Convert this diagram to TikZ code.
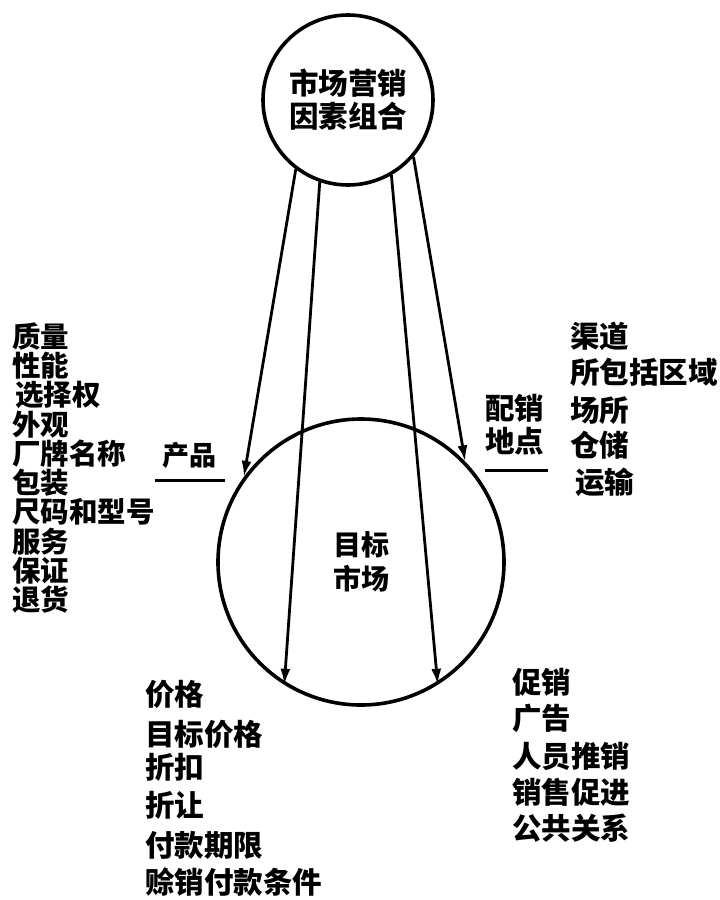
\documentclass[tikz,border=0pt]{standalone}
\usepackage{fontspec}
\newfontfamily\cjk{Noto Sans CJK SC}
\usetikzlibrary{arrows.meta}
\tikzset{
  ring/.style={circle, draw, line width=3.6pt, inner sep=0pt, align=center},
  lst/.style={anchor=west, inner sep=0pt, font=\cjk\bfseries\fontsize{29.5}{30}\selectfont},
  lstl/.style={lst, font=\cjk\bfseries\fontsize{28.5}{29}\selectfont},
  flow/.style={line width=2.8pt, -{Latex[length=16pt,width=10pt]}},
  uline/.style={line width=3pt},
}
\begin{document}
\begin{tikzpicture}[x=1pt,y=-1pt]
\useasboundingbox (0,0) rectangle (720,900);
\node[ring, minimum size=170pt, font=\cjk\bfseries\fontsize{29.5}{33}\selectfont] (mix) at (348,100) {市场营销\\因素组合};
\node[ring, minimum size=286pt, font=\cjk\bfseries\fontsize{28}{34}\selectfont] (tm) at (361,562) {目标\\市场};
\draw[flow] (mix.233) -- (tm.144);
\draw[flow] (mix.251) -- (tm.238);
\draw[flow] (mix.300) -- (tm.302);
\draw[flow] (mix.319) -- (tm.44);
% left list
\foreach \x/\y/\t [count=\i] in {12/337/质量,12/366/性能,15/395/选择权,12/424.5/外观,12/454/厂牌名称,12/483/包装,12/512/尺码和型号,12/541.5/服务,12/571/保证,12/600/退货}
  \node[lstl] (p\i) at (\x,\y) {\t};
\node[lst, anchor=center, font=\cjk\bfseries\fontsize{27}{30}\selectfont] (prod) at (189,455) {产品};
\coordinate (pu1) at (155,480);
\coordinate (pu2) at (225,480);
\draw[uline] (pu1) -- (pu2);
% right list
\foreach \x/\y/\t [count=\i] in {570/336/渠道,570/372/所包括区域,570/411/场所,570/445/仓储,575/482/运输}
  \node[lst] (d\i) at (\x,\y) {\t};
\node[lst] (pl1) at (485,408) {配销};
\node[lst] (pl2) at (485,441) {地点};
\coordinate (du1) at (485,470);
\coordinate (du2) at (548,470);
\draw[uline] (du1) -- (du2);
% bottom left
\foreach \x/\y/\t [count=\i] in {145/694/价格,145/734/目标价格,145/767/折扣,145/805/折让,145/845/付款期限,145/882/赊销付款条件}
  \node[lst] (c\i) at (\x,\y) {\t};
% bottom right
\foreach \x/\y/\t [count=\i] in {512/682/促销,512/718/广告,512/756/人员推销,512/792/销售促进,512/828/公共关系}
  \node[lst] (s\i) at (\x,\y) {\t};
\end{tikzpicture}
\end{document}
